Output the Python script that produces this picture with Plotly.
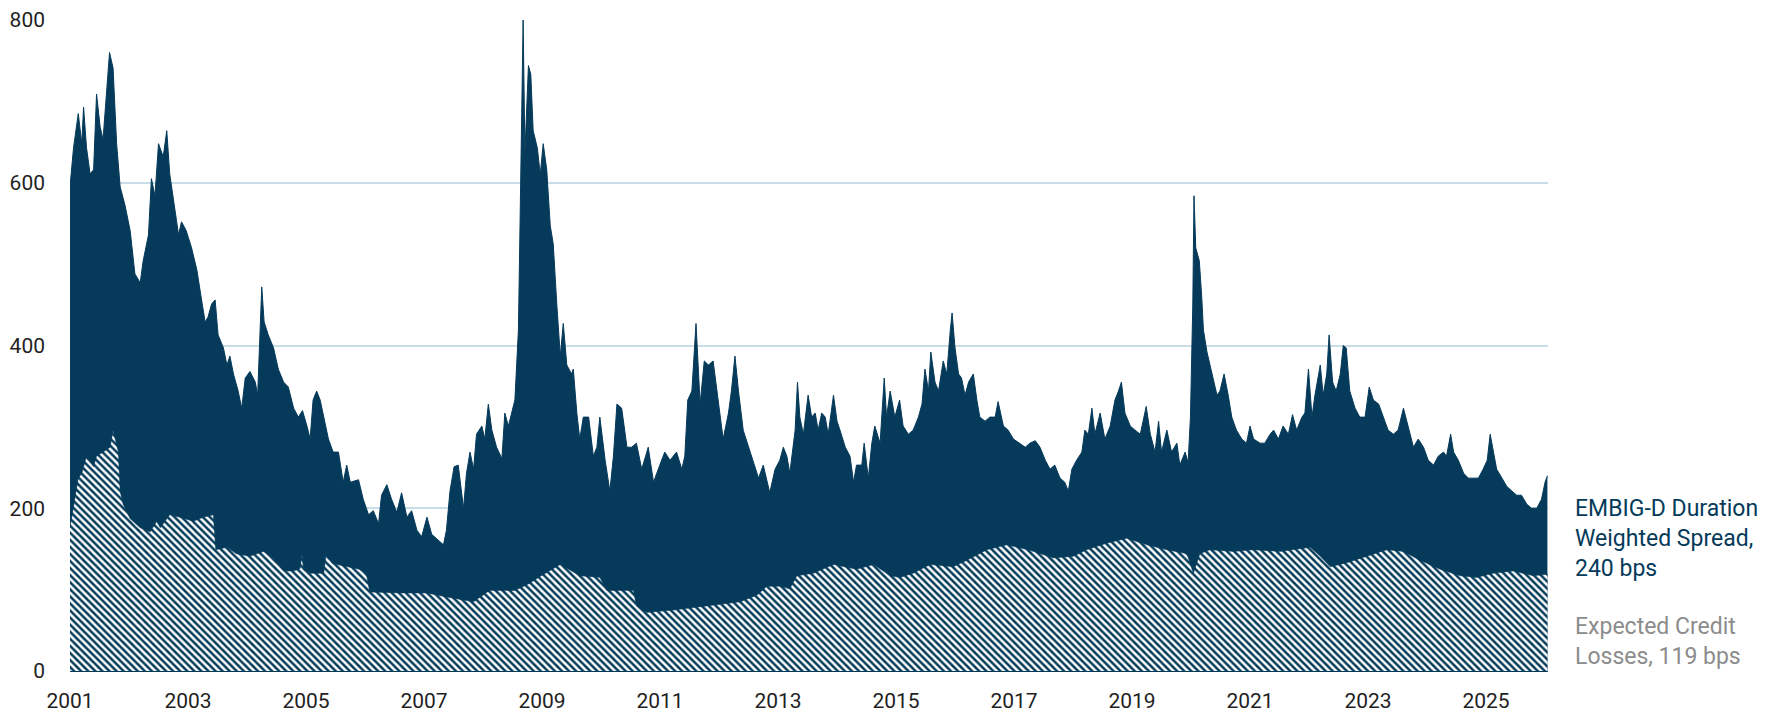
import plotly.graph_objects as go

# EMBIG-D duration weighted spread (bps); x in decimal years
spread_years = [
    2001.00, 2001.06, 2001.14, 2001.20, 2001.23, 2001.28, 2001.34, 2001.40, 2001.45, 2001.51,
    2001.56, 2001.62, 2001.67, 2001.73, 2001.79, 2001.85, 2001.93, 2002.02, 2002.10, 2002.19,
    2002.24, 2002.33, 2002.38, 2002.44, 2002.50, 2002.58, 2002.64, 2002.69, 2002.78, 2002.84,
    2002.89, 2002.97, 2003.06, 2003.15, 2003.23, 2003.29, 2003.34, 2003.40, 2003.46, 2003.51,
    2003.60, 2003.66, 2003.71, 2003.77, 2003.85, 2003.91, 2003.97, 2004.05, 2004.14, 2004.18,
    2004.25, 2004.29, 2004.36, 2004.45, 2004.53, 2004.62, 2004.70, 2004.79, 2004.87, 2004.94,
    2005.02, 2005.07, 2005.12, 2005.18, 2005.24, 2005.29, 2005.38, 2005.46, 2005.55, 2005.63,
    2005.69, 2005.75, 2005.89, 2005.97, 2006.06, 2006.14, 2006.23, 2006.28, 2006.37, 2006.45,
    2006.54, 2006.62, 2006.71, 2006.79, 2006.88, 2006.96, 2007.05, 2007.13, 2007.21, 2007.33,
    2007.38, 2007.44, 2007.51, 2007.58, 2007.67, 2007.72, 2007.78, 2007.84, 2007.89, 2007.98,
    2008.03, 2008.09, 2008.15, 2008.23, 2008.32, 2008.37, 2008.43, 2008.49, 2008.54, 2008.60,
    2008.64, 2008.68, 2008.71, 2008.77, 2008.81, 2008.85, 2008.92, 2008.97, 2009.02, 2009.08,
    2009.14, 2009.19, 2009.25, 2009.31, 2009.36, 2009.42, 2009.50, 2009.53, 2009.59, 2009.64,
    2009.70, 2009.79, 2009.87, 2009.93, 2009.98, 2010.07, 2010.15, 2010.21, 2010.27, 2010.35,
    2010.44, 2010.52, 2010.60, 2010.69, 2010.80, 2010.89, 2010.97, 2011.08, 2011.17, 2011.28,
    2011.37, 2011.42, 2011.47, 2011.54, 2011.61, 2011.68, 2011.75, 2011.82, 2011.90, 2011.99,
    2012.07, 2012.16, 2012.21, 2012.27, 2012.33, 2012.41, 2012.50, 2012.58, 2012.67, 2012.75,
    2012.86, 2012.95, 2013.03, 2013.09, 2013.15, 2013.20, 2013.29, 2013.33, 2013.37, 2013.43,
    2013.51, 2013.57, 2013.63, 2013.68, 2013.74, 2013.80, 2013.85, 2013.94, 2014.00, 2014.05,
    2014.14, 2014.22, 2014.28, 2014.33, 2014.42, 2014.46, 2014.53, 2014.59, 2014.64, 2014.73,
    2014.80, 2014.84, 2014.90, 2014.98, 2015.06, 2015.12, 2015.21, 2015.29, 2015.38, 2015.44,
    2015.49, 2015.55, 2015.59, 2015.66, 2015.72, 2015.80, 2015.86, 2015.92, 2015.95, 2016.00,
    2016.06, 2016.11, 2016.17, 2016.23, 2016.31, 2016.37, 2016.42, 2016.51, 2016.59, 2016.68,
    2016.73, 2016.82, 2016.90, 2016.99, 2017.10, 2017.19, 2017.27, 2017.36, 2017.44, 2017.53,
    2017.61, 2017.69, 2017.78, 2017.86, 2017.92, 2017.98, 2018.06, 2018.15, 2018.20, 2018.26,
    2018.32, 2018.37, 2018.46, 2018.54, 2018.63, 2018.71, 2018.77, 2018.82, 2018.88, 2018.97,
    2019.05, 2019.14, 2019.24, 2019.31, 2019.39, 2019.45, 2019.50, 2019.59, 2019.67, 2019.76,
    2019.81, 2019.90, 2019.95, 2019.99, 2020.03, 2020.05, 2020.08, 2020.14, 2020.18, 2020.21,
    2020.27, 2020.32, 2020.38, 2020.44, 2020.49, 2020.56, 2020.63, 2020.69, 2020.77, 2020.86,
    2020.94, 2021.00, 2021.06, 2021.17, 2021.25, 2021.34, 2021.40, 2021.48, 2021.56, 2021.65,
    2021.72, 2021.79, 2021.88, 2021.93, 2021.99, 2022.05, 2022.10, 2022.19, 2022.24, 2022.30,
    2022.34, 2022.40, 2022.46, 2022.53, 2022.58, 2022.63, 2022.69, 2022.78, 2022.86, 2022.95,
    2023.02, 2023.09, 2023.18, 2023.26, 2023.34, 2023.43, 2023.51, 2023.60, 2023.68, 2023.77,
    2023.85, 2023.94, 2024.02, 2024.11, 2024.19, 2024.28, 2024.33, 2024.40, 2024.45, 2024.53,
    2024.62, 2024.70, 2024.79, 2024.87, 2024.95, 2025.02, 2025.07, 2025.12, 2025.18, 2025.27,
    2025.35, 2025.44, 2025.52, 2025.60, 2025.69, 2025.77, 2025.86, 2025.94, 2026.00, 2026.04,
]
spread_bps = [
    595, 643, 685, 648, 693, 643, 611, 616, 709, 669,
    653, 717, 760, 741, 648, 595, 573, 541, 488, 477,
    504, 536, 605, 584, 648, 632, 664, 611, 563, 536,
    552, 541, 520, 493, 456, 429, 435, 451, 456, 413,
    397, 376, 387, 365, 344, 323, 360, 368, 355, 339,
    472, 429, 413, 397, 371, 355, 349, 323, 312, 320,
    300, 285, 333, 344, 333, 317, 285, 269, 269, 232,
    253, 232, 235, 211, 192, 197, 181, 216, 229, 211,
    195, 219, 189, 197, 173, 165, 189, 168, 163, 155,
    173, 221, 251, 253, 200, 243, 269, 248, 291, 301,
    285, 328, 296, 275, 261, 317, 301, 317, 333, 419,
    627, 800, 637, 744, 733, 664, 643, 610, 648, 616,
    547, 525, 451, 387, 427, 376, 365, 371, 317, 285,
    312, 312, 264, 275, 312, 259, 221, 264, 328, 323,
    275, 275, 280, 248, 275, 232, 248, 269, 259, 269,
    248, 264, 333, 344, 427, 328, 381, 376, 381, 333,
    285, 317, 344, 387, 344, 296, 275, 259, 237, 253,
    219, 248, 259, 275, 264, 243, 296, 355, 312, 291,
    339, 312, 317, 296, 317, 312, 291, 339, 307, 296,
    275, 264, 232, 253, 253, 280, 237, 280, 301, 280,
    360, 312, 344, 312, 333, 301, 291, 296, 312, 328,
    371, 344, 392, 355, 344, 381, 365, 419, 440, 397,
    365, 360, 339, 355, 365, 333, 312, 307, 312, 312,
    331, 301, 296, 285, 280, 275, 280, 283, 275, 259,
    248, 253, 237, 232, 221, 248, 259, 269, 296, 291,
    323, 291, 317, 285, 301, 333, 344, 355, 317, 301,
    296, 291, 325, 291, 269, 307, 269, 296, 269, 280,
    253, 269, 256, 312, 451, 584, 520, 504, 461, 419,
    392, 376, 360, 339, 344, 365, 339, 312, 296, 285,
    280, 301, 285, 280, 280, 291, 296, 285, 301, 291,
    315, 296, 312, 317, 371, 312, 339, 376, 339, 365,
    413, 355, 344, 365, 400, 397, 344, 323, 312, 312,
    349, 333, 328, 312, 296, 291, 296, 323, 301, 275,
    285, 275, 259, 253, 264, 269, 264, 291, 269, 259,
    243, 237, 237, 237, 248, 259, 291, 269, 248, 237,
    227, 221, 216, 216, 205, 200, 200, 211, 232, 240,
]

# Expected credit losses (bps)
ecl_years = [
    2001.00, 2001.06, 2001.14, 2001.20, 2001.28, 2001.40, 2001.45, 2001.56, 2001.68, 2001.73,
    2001.82, 2001.85, 2001.90, 2002.02, 2002.19, 2002.36, 2002.47, 2002.53, 2002.69, 2002.86,
    2003.09, 2003.26, 2003.43, 2003.47, 2003.66, 2003.82, 2004.05, 2004.28, 2004.45, 2004.62,
    2004.79, 2004.90, 2004.93, 2004.96, 2005.07, 2005.30, 2005.34, 2005.45, 2005.70, 2005.90,
    2006.02, 2006.08, 2006.60, 2007.05, 2007.38, 2007.84, 2008.11, 2008.54, 2008.77, 2008.94,
    2009.31, 2009.64, 2009.98, 2010.10, 2010.55, 2010.60, 2010.77, 2011.23, 2011.79, 2012.36,
    2012.64, 2012.81, 2013.03, 2013.20, 2013.32, 2013.60, 2013.94, 2014.33, 2014.62, 2014.90,
    2015.07, 2015.29, 2015.58, 2015.97, 2016.20, 2016.54, 2016.88, 2017.24, 2017.67, 2018.01,
    2018.23, 2018.57, 2018.91, 2019.25, 2019.59, 2019.93, 2020.04, 2020.15, 2020.32, 2020.72,
    2021.06, 2021.51, 2022.02, 2022.19, 2022.36, 2022.64, 2022.98, 2023.32, 2023.60, 2023.88,
    2024.22, 2024.56, 2024.84, 2025.12, 2025.46, 2025.80, 2026.04,
]
ecl_bps = [
    176, 200, 237, 243, 264, 251, 264, 269, 275, 296,
    269, 221, 205, 187, 176, 171, 184, 176, 192, 189,
    184, 189, 192, 149, 152, 144, 141, 147, 139, 123,
    123, 126, 143, 124, 120, 120, 143, 132, 128, 125,
    120, 97, 96, 96, 91, 85, 99, 99, 107, 115,
    131, 117, 115, 99, 99, 80, 72, 75, 80, 85,
    93, 104, 104, 101, 117, 120, 131, 125, 131, 117,
    115, 120, 131, 128, 136, 149, 155, 149, 139, 141,
    149, 157, 163, 155, 149, 144, 120, 144, 149, 147,
    149, 147, 152, 141, 128, 133, 141, 149, 147, 136,
    125, 117, 115, 120, 123, 117, 119,
]

tick_years = list(range(2001, 2026, 2))
tick_labels = [str(y) for y in tick_years]
y_ticks = [0, 200, 400, 600, 800]

NAVY = "#053a5a"
GREY = "#8c8c8c"

fig = go.Figure()
fig.add_trace(go.Scatter(
    x=spread_years, y=spread_bps, mode="lines",
    line=dict(color=NAVY, width=1), fill="tozeroy", fillcolor=NAVY,
    hoverinfo="skip", name="EMBIG-D Duration Weighted Spread",
))
fig.add_trace(go.Scatter(
    x=ecl_years, y=ecl_bps, mode="lines",
    line=dict(color=NAVY, width=0.5), fill="tozeroy", fillcolor=NAVY,
    fillpattern=dict(shape="\\", fgcolor="white", bgcolor=NAVY,
                     size=5, solidity=0.5, fillmode="replace"),
    hoverinfo="skip", name="Expected Credit Losses",
))

fig.update_layout(
    width=1777, height=713,
    margin=dict(l=70, r=229, t=20, b=42),
    plot_bgcolor="white", paper_bgcolor="white",
    showlegend=False,
    font=dict(family="Roboto", size=21, color="#1f1f1f"),
)
fig.update_xaxes(
    range=[2001.0, 2026.05], tickvals=tick_years, ticktext=tick_labels,
    showgrid=False, zeroline=False, showline=True, linecolor=NAVY, linewidth=1,
    ticks="", ticklabelstandoff=11, automargin=False,
)
fig.update_yaxes(
    range=[0, 800], tickvals=y_ticks,
    showgrid=True, gridcolor="#c9dde9", gridwidth=2, zeroline=False,
    ticks="", ticklabelstandoff=24, automargin=False,
)

fig.add_annotation(
    xref="paper", yref="paper", x=1.017, y=0.203, xanchor="left", yanchor="middle",
    align="left", showarrow=False,
    text=f"EMBIG-D Duration<br>Weighted Spread,<br>{spread_bps[-1]} bps",
    font=dict(family="Roboto", size=23, color=NAVY),
)
fig.add_annotation(
    xref="paper", yref="paper", x=1.017, y=0.046, xanchor="left", yanchor="middle",
    align="left", showarrow=False,
    text=f"Expected Credit<br>Losses, {ecl_bps[-1]} bps",
    font=dict(family="Roboto", size=23, color=GREY),
)

fig.write_html(
    "out.html",
    config={"displayModeBar": False},
    post_script="document.body.style.margin='0';document.documentElement.style.overflow='hidden';",
)
